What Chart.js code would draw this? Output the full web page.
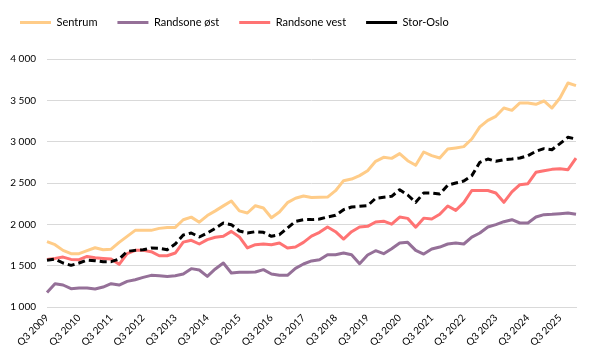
<!DOCTYPE html>
<html><head><meta charset="utf-8">
<script src="https://cdn.jsdelivr.net/npm/chart.js@4.4.1/dist/chart.umd.min.js"></script>
<style>html,body{margin:0;padding:0;background:#fff}#wrap{width:593px;height:357px;position:relative}</style>
</head><body><div id="wrap"><canvas id="c"></canvas></div>
<script>
const quarters = ["Q3 2009","Q4 2009",
"Q1 2010","Q2 2010","Q3 2010","Q4 2010","Q1 2011","Q2 2011","Q3 2011","Q4 2011",
"Q1 2012","Q2 2012","Q3 2012","Q4 2012","Q1 2013","Q2 2013","Q3 2013","Q4 2013",
"Q1 2014","Q2 2014","Q3 2014","Q4 2014","Q1 2015","Q2 2015","Q3 2015","Q4 2015",
"Q1 2016","Q2 2016","Q3 2016","Q4 2016","Q1 2017","Q2 2017","Q3 2017","Q4 2017",
"Q1 2018","Q2 2018","Q3 2018","Q4 2018","Q1 2019","Q2 2019","Q3 2019","Q4 2019",
"Q1 2020","Q2 2020","Q3 2020","Q4 2020","Q1 2021","Q2 2021","Q3 2021","Q4 2021",
"Q1 2022","Q2 2022","Q3 2022","Q4 2022","Q1 2023","Q2 2023","Q3 2023","Q4 2023",
"Q1 2024","Q2 2024","Q3 2024","Q4 2024","Q1 2025","Q2 2025","Q3 2025","Q4 2025",
"Q1 2026"];

const sentrum = [1790,1754,1685,1645,1645,1681,1717,1693,1700,1782,1854,1927,1927,1927,1951,1963,1963,
 2055,2087,2026,2106,2163,2223,2282,2163,2137,2225,2197,2080,2150,2262,2316,2342,
 2325,2327,2330,2407,2528,2548,2589,2649,2762,
 2811,2798,2855,2770,2714,2875,2831,2803,2910,
 2924,2940,3032,3178,3258,3307,3407,3379,3468,3468,3452,3492,3407,3528,3710,3678];

const randsoneOst = [1175,1282,1266,1221,1229,1229,1217,1241,1282,1266,1310,1330,1358,1383,1379,1370,1379,
 1399,1464,1448,1371,1460,1532,1411,1420,1420,1424,1452,1399,1383,1383,1468,1520,
 1557,1572,1633,1633,1653,1633,1524,1629,1681,
 1645,1705,1774,1782,1685,1641,1701,1725,1762,
 1774,1762,1846,1895,1967,1996,2032,2056,2016,2016,2088,2117,2121,2129,2137,2121];

const randsoneVest = [1576,1588,1604,1576,1572,1612,1596,1588,1580,1516,1645,1685,1685,1669,1620,1620,1653,
 1785,1807,1762,1815,1843,1855,1915,1847,1714,1754,1762,1754,1774,1714,1726,1782,
 1858,1903,1968,1911,1822,1911,1968,1976,2028,
 2038,2002,2088,2072,1965,2075,2064,2121,2222,
 2169,2262,2409,2409,2409,2379,2266,2393,2480,2492,2629,2649,2665,2673,2661,2802];

const storOslo = [1565,1580,1532,1504,1532,1568,1560,1548,1548,1580,1673,1685,1693,1713,1709,1693,1762,
 1871,1895,1847,1895,1952,2016,1996,1920,1895,1911,1903,1855,1875,1956,2036,2057,
 2057,2064,2089,2109,2177,2210,2218,2226,2315,
 2327,2339,2419,2355,2266,2379,2379,2367,2474,
 2500,2524,2589,2750,2790,2762,2782,2790,2802,2831,2883,2915,2903,2976,3053,3032];

const seriesNames = ["Sentrum","Randsone øst","Randsone vest","Stor-Oslo"];
const yMin = 1000, yMax = 4000, yStep = 500;

const FONT = "Lato, 'Liberation Sans', sans-serif";

const legendGap = {
  id: 'legendGap',
  beforeLayout(chart) {
    const lg = chart.legend;
    if (lg && !lg._patched) {
      const f = lg.fit;
      lg.fit = function() { f.call(this); this.height += 21; };
      lg._patched = true;
    }
  }
};

function fmt(v) { return String(v).replace(/\B(?=(\d{3})+(?!\d))/g, ' '); }

function ds(label, data, color, order, dash) {
  return {
    label, data, order,
    borderColor: color, backgroundColor: color,
    borderWidth: 3, pointRadius: 0, pointHoverRadius: 0,
    tension: 0, fill: false,
    borderDash: dash || [], borderCapStyle: 'butt', borderJoinStyle: 'round'
  };
}

new Chart(document.getElementById('c'), {
  type: 'line',
  data: {
    labels: quarters,
    datasets: [
      ds(seriesNames[0], sentrum, '#FFCC88', 4),
      ds(seriesNames[1], randsoneOst, '#957098', 3),
      ds(seriesNames[2], randsoneVest, '#FF7373', 2),
      ds(seriesNames[3], storOslo, '#000000', 1, [7, 4])
    ]
  },
  options: {
    responsive: true, maintainAspectRatio: false, animation: false,
    devicePixelRatio: 1,
    layout: { padding: { top: -3, left: 0, right: 17, bottom: 0 } },
    plugins: {
      legend: {
        position: 'top', align: 'start',
        labels: {
          usePointStyle: true, pointStyle: 'line', pointStyleWidth: 31, boxHeight: 11,
          padding: 20, color: '#000', font: { family: FONT, size: 11 },
          sort: (a, b) => a.datasetIndex - b.datasetIndex
        }
      },
      tooltip: { enabled: false }
    },
    scales: {
      x: {
        type: 'category',
        grid: { display: false, drawTicks: false },
        border: { display: true, color: '#D9D9D9', width: 1 },
        afterFit(s) { s.height = 50; },
        ticks: {
          autoSkip: false, minRotation: 45, maxRotation: 45, padding: 5,
          color: '#000', font: { family: FONT, size: 10 },
          callback(v, i) { return i % 4 === 0 ? this.getLabelForValue(v) : ''; }
        }
      },
      y: {
        min: yMin, max: yMax,
        grid: { color: '#D9D9D9', lineWidth: 1, drawTicks: false },
        border: { display: false },
        afterFit(s) { s.width = 47; },
        ticks: {
          stepSize: yStep, padding: 11, color: '#000',
          font: { family: FONT, size: 10 },
          callback(v) { return fmt(v); }
        }
      }
    }
  },
  plugins: [legendGap]
});
</script>
</body></html>
